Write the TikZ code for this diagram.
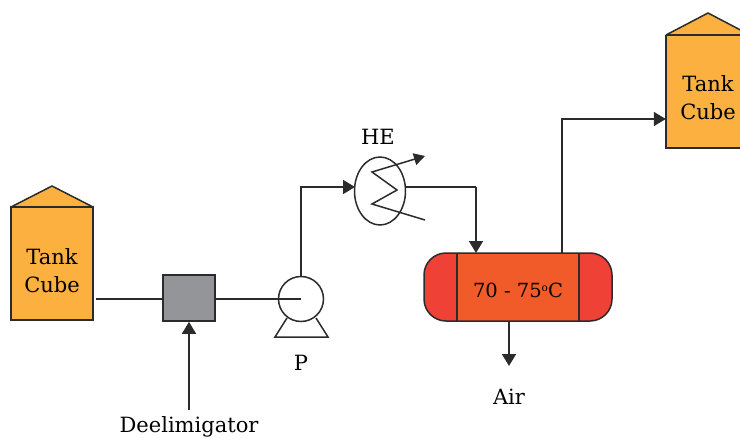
\documentclass[tikz,border=0pt]{standalone}
\usepackage{fontspec}
\setmainfont{DejaVu Serif}
\usetikzlibrary{arrows.meta,shapes.geometric,calc}
\definecolor{tankor}{HTML}{FBB040}
\definecolor{midred}{HTML}{F15A29}
\definecolor{endred}{HTML}{EF4136}
\definecolor{boxgray}{HTML}{939598}
\definecolor{ink}{HTML}{2B2B2B}
\tikzset{
  pipe/.style={draw=ink,line width=1.7pt},
  flow/.style={pipe,-{Triangle[length=12pt,width=14pt]}},
  outl/.style={draw=ink,line width=1.5pt},
  lab/.style={font=\fontsize{21pt}{28pt}\selectfont,text=black,align=center,inner sep=0pt},
  port/.style={inner sep=0pt,minimum size=0pt}
}
\begin{document}
\begin{tikzpicture}[x=1pt,y=-1pt]
\useasboundingbox (0,0) rectangle (740,439);
% left tank
\fill[tankor] (11,207) -- (52,186) -- (93,207) -- (93,320) -- (11,320) -- cycle;
\draw[outl] (11,207) -- (52,186) -- (93,207);
\draw[outl] (11,207) rectangle (93,320);
\draw[draw=ink,line width=2.5pt] (11,207) -- (93,207);
\node[lab] (tankA) at (52,271) {Tank\\Cube};
\node[port] (tankAout) at (96,299) {};
% gray box
\node[draw=ink,line width=1.7pt,fill=boxgray,minimum width=52pt,minimum height=46pt,inner sep=0pt] (box) at (189,298) {};
% pump
\node[draw=ink,line width=1.5pt,fill=white,circle,minimum size=45pt,inner sep=0pt] (pump) at (301,299) {};
\draw[outl,line join=miter] (287,318) -- (275,337) -- (328,337) -- (316,318);
\node[port] (pumpc) at (301,299) {};
\node[lab] (plab) at (301,363) {P};
% HE
\node[draw=ink,line width=1.5pt,ellipse,minimum width=51pt,minimum height=68pt,inner sep=0pt] (he) at (380,191) {};
\node[lab] (helab) at (378,137) {HE};
\coordinate (zigin) at (425,220);
\coordinate (zigout) at (425,156);
\coordinate (hein) at (355,187);
\coordinate (heout) at (405,187);
\coordinate (bend) at (476,187);
\coordinate (pumpup) at (301,187);
\coordinate (reacin) at (476,253);
\coordinate (reacout) at (562,253);
\coordinate (reacup) at (562,119);
\coordinate (reacbot) at (509,321);
\coordinate (airend) at (509,366);
\coordinate (deelstart) at (189,410);
\draw[draw=ink,line width=1.5pt,-{Triangle[length=11pt,width=12pt]}] (zigin) -- (372,204) -- (397,190) -- (372,172) -- (zigout);
% reactor
\fill[endred,rounded corners=22pt] (424,253) rectangle (612,321);
\fill[midred] (457,253) rectangle (579,321);
\draw[outl,rounded corners=22pt] (424,253) rectangle (612,321);
\draw[draw=ink,line width=1.2pt] (457,253) -- (457,321) (579,253) -- (579,321);
\node[lab,font=\fontsize{19.5pt}{24pt}\selectfont] (rlab) at (518,290) {70 - 75\raisebox{0.6ex}{\fontsize{10.5pt}{10.5pt}\selectfont o}C};
% right tank
\fill[tankor] (666,35) -- (708,13) -- (750,35) -- (750,148) -- (666,148) -- cycle;
\draw[outl] (666,35) -- (708,13) -- (750,35);
\draw[outl] (750,148) -- (666,148) -- (666,35);
\draw[draw=ink,line width=2.5pt] (666,35) -- (750,35);
\node[lab] (tankB) at (708,98) {Tank\\Cube};
\node[port] (tankBin) at (666,119) {};
% labels
\node[lab] (airlab) at (509,397) {Air};
\node[lab] (dlab) at (189,427) {Deelimigator};
% connectors
\draw[pipe] (tankAout) -- (box.west |- tankAout);
\draw[pipe] (box.east |- pumpc) -- (pumpc.center);
\draw[flow] (pump.north) -- (pumpup) -- (hein);
\draw[pipe] (heout) -- (bend);
\draw[flow] (bend) -- (reacin);
\draw[flow] (reacout) -- (reacup) -- (tankBin);
\draw[flow] (reacbot) -- (airend);
\draw[flow] (deelstart) -- (box.south);
\end{tikzpicture}
\end{document}
